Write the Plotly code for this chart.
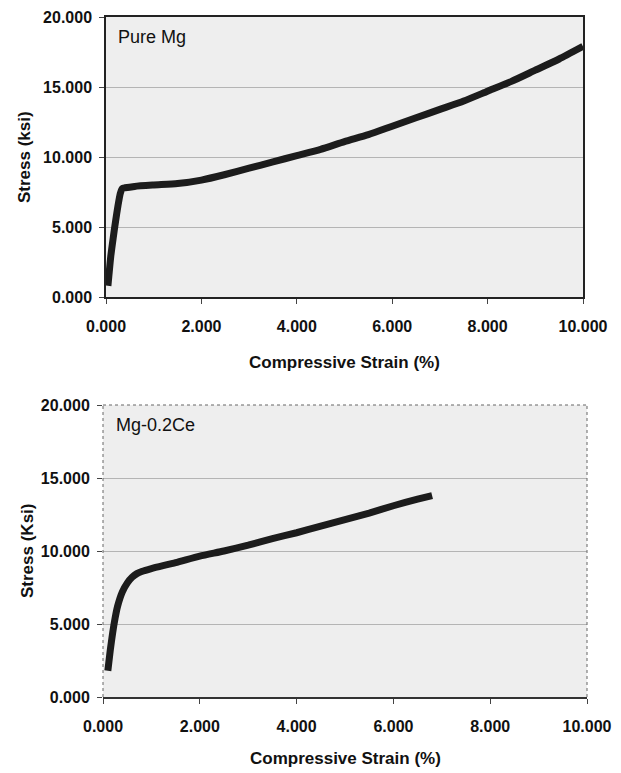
import plotly.graph_objects as go

# ---- data ----
pure_strain = [0.04, 0.06, 0.10, 0.15, 0.20, 0.25, 0.30, 0.34, 0.40, 0.60, 1.00, 1.50, 2.00,
               2.50, 3.00, 3.50, 4.00, 4.50, 5.00, 5.50, 6.00, 6.50, 7.00, 7.50, 8.00,
               8.50, 9.00, 9.50, 10.00]
pure_stress = [0.8, 1.5, 2.9, 4.2, 5.4, 6.5, 7.4, 7.75, 7.8, 7.9, 8.0, 8.1, 8.35,
               8.75, 9.2, 9.65, 10.1, 10.55, 11.1, 11.6, 12.2, 12.8, 13.4, 14.0, 14.7,
               15.4, 16.2, 17.0, 17.9]

ce_strain = [0.10, 0.15, 0.20, 0.25, 0.30, 0.40, 0.50, 0.60, 0.70, 0.80, 1.00, 1.50,
             2.00, 2.50, 3.00, 3.50, 4.00, 4.50, 5.00, 5.50, 6.00, 6.50, 6.80]
ce_stress = [1.8, 3.2, 4.4, 5.4, 6.2, 7.2, 7.8, 8.2, 8.45, 8.6, 8.8, 9.2,
             9.65, 10.0, 10.4, 10.85, 11.25, 11.7, 12.15, 12.6, 13.1, 13.55, 13.8]

x_ticks = [0, 2, 4, 6, 8, 10]
x_ticklabels = ["0.000", "2.000", "4.000", "6.000", "8.000", "10.000"]
y_ticks = [0, 5, 10, 15, 20]
y_ticklabels = ["0.000", "5.000", "10.000", "15.000", "20.000"]

labels = ["Pure Mg", "Mg-0.2Ce"]
y_titles = ["Stress (ksi)", "Stress (Ksi)"]
x_title = "Compressive Strain (%)"

W, H = 621, 773
TICKFONT = dict(family="Liberation Sans, Arial", size=16, color="#111", weight="bold")
TITLEFONT = dict(family="Liberation Sans, Arial", size=17, color="#111", weight="bold")

fig = go.Figure()
fig.add_trace(go.Scatter(x=pure_strain, y=pure_stress, mode="lines",
                         line=dict(color="#1c1c1c", width=7, shape="spline", smoothing=0.6),
                         xaxis="x", yaxis="y", showlegend=False, hoverinfo="skip"))
fig.add_trace(go.Scatter(x=ce_strain, y=ce_stress, mode="lines",
                         line=dict(color="#1c1c1c", width=7, shape="spline", smoothing=0.6),
                         xaxis="x2", yaxis="y2", showlegend=False, hoverinfo="skip"))

# pixel boxes: (left, right, top, bottom)
boxes = [(106, 583, 17, 297), (103, 587, 405, 697)]

def fx(px):
    return px / W

def fy(py):
    return 1 - py / H

common_x = dict(range=[0, 10], tickvals=x_ticks, ticktext=x_ticklabels, ticks="outside",
                ticklen=5, tickcolor="#444", showgrid=False, zeroline=False, automargin=False,
                tickfont=TICKFONT, ticklabelstandoff=9)
common_y = dict(range=[0, 20], tickvals=y_ticks, ticktext=y_ticklabels, ticks="outside",
                ticklen=5, tickcolor="#444", showgrid=True, gridcolor="#b4b4b4", gridwidth=1,
                zeroline=False, automargin=False, tickfont=TICKFONT, ticklabelstandoff=4)

l, r, t, b = boxes[0]
fig.update_layout(
    xaxis=dict(common_x, domain=[fx(l), fx(r)], anchor="y", showline=True, linecolor="#222",
               linewidth=1.5, mirror=True),
    yaxis=dict(common_y, domain=[fy(b), fy(t)], anchor="x", showline=True, linecolor="#222",
               linewidth=1.5, mirror=True),
)
l2, r2, t2, b2 = boxes[1]
fig.update_layout(
    xaxis2=dict(common_x, domain=[fx(l2), fx(r2)], anchor="y2", showline=True, linecolor="#333",
                linewidth=1.5),
    yaxis2=dict(common_y, domain=[fy(b2), fy(t2)], anchor="x2", showline=False),
)

# dotted left/top/right border of lower chart
for (x0, x1, y0, y1) in [(0, 1, 1, 1), (1, 1, 0, 1), (0, 0, 0, 1)]:
    fig.add_shape(type="line", xref="x2 domain", yref="y2 domain", x0=x0, x1=x1, y0=y0, y1=y1,
                  line=dict(color="#666", width=1, dash="dot"))

# panel labels
for lab, xr, yr in zip(labels, ["x domain", "x2 domain"], ["y domain", "y2 domain"]):
    fig.add_annotation(text=lab, xref=xr, yref=yr, x=0.022, y=0.972, xanchor="left", yanchor="top",
                       showarrow=False, font=dict(family="Liberation Sans, Arial", size=18, color="#111"))

# axis titles (placed as paper annotations)
xtitle_y = [362, 758]
ytitle_x = [24, 27]
for (l_, r_, t_, b_), ty, tx, yt in zip(boxes, xtitle_y, ytitle_x, y_titles):
    fig.add_annotation(text=x_title, xref="paper", yref="paper", x=fx((l_ + r_) / 2), y=fy(ty),
                       xanchor="center", yanchor="middle", showarrow=False, font=TITLEFONT)
    fig.add_annotation(text=yt, xref="paper", yref="paper", x=fx(tx), y=fy((t_ + b_) / 2),
                       xanchor="center", yanchor="middle", textangle=-90, showarrow=False,
                       font=TITLEFONT)

fig.update_layout(width=W, height=H, margin=dict(l=0, r=0, t=0, b=0, autoexpand=False),
                  paper_bgcolor="white", plot_bgcolor="#eeeeee", hovermode=False)

fig.write_html("out.html", config={"displayModeBar": False},
               post_script="document.body.style.margin='0';")
